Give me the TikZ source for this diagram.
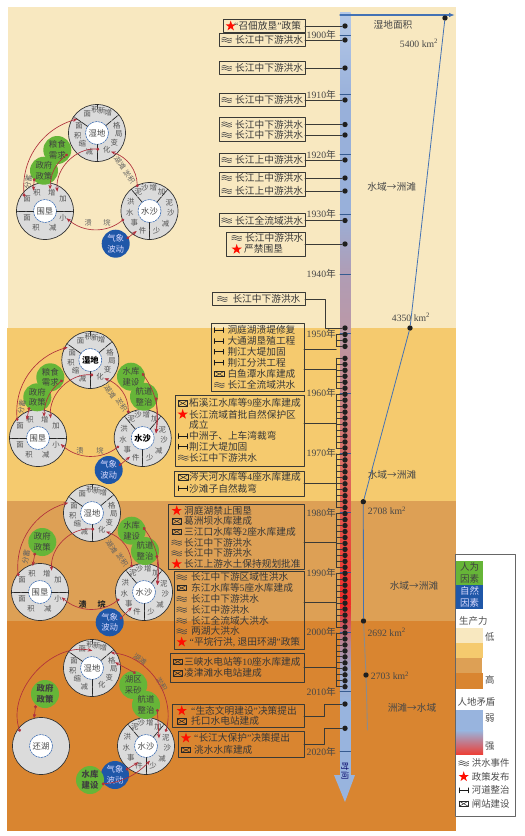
\documentclass[tikz,border=0pt]{standalone}
\usepackage{fontspec}
\setmainfont{Noto Sans CJK SC}
\newfontfamily\latinfont{Liberation Serif}
\usetikzlibrary{arrows.meta,calc}

\definecolor{bgone}{HTML}{F8E8C0}
\definecolor{bgtwo}{HTML}{F5CA6E}
\definecolor{bgthree}{HTML}{DDA055}
\definecolor{bgfour}{HTML}{D98530}
\definecolor{manbox}{HTML}{66B538}
\definecolor{natbox}{HTML}{1F57A8}
\definecolor{barblue}{HTML}{98B4DE}
\definecolor{linkred}{HTML}{B0303C}
\definecolor{inkdark}{HTML}{3A3A36}
\definecolor{arealine}{HTML}{4472B4}
\definecolor{sta}{HTML}{B4C8E8}
\definecolor{stb}{HTML}{98B0DA}
\definecolor{stc}{HTML}{B09CB4}
\definecolor{std}{HTML}{BC98A6}
\definecolor{ste}{HTML}{DC6A60}
\definecolor{stf}{HTML}{EC4038}
\definecolor{stg}{HTML}{F02A28}
\definecolor{sth}{HTML}{B88090}
\definecolor{sti}{HTML}{A0A8C8}

\begin{document}
\begin{tikzpicture}[x=1pt,y=-1pt,>=Stealth,line cap=round,line join=round]
  \tikzset{
    evbox/.style={draw=inkdark,line width=.8pt,inner sep=0pt,outer sep=0pt},
    evtext/.style={anchor=west,inner sep=0pt,text=black!78,font=\fontsize{9.7}{11}\selectfont},
    evdot/.style={circle,fill=black!88,inner sep=0pt,minimum size=5.4pt},
    lead/.style={draw=inkdark,line width=.8pt},
    yrtext/.style={anchor=east,inner sep=0pt,text=black!72,font=\fontsize{9.7}{11}\selectfont},
    areatext/.style={inner sep=0pt,text=black!72,font=\fontsize{9.7}{11}\selectfont},
    ringdisc/.style={circle,draw=black!80,fill=black!14,line width=.7pt,minimum size=57pt,inner sep=0pt,outer sep=0pt},
    ringcore/.style={circle,draw=arealine,dashed,dash pattern=on 2pt off 1pt,fill=white,line width=.6pt,minimum size=23pt,inner sep=0pt,outer sep=0pt,text=black!72,font=\fontsize{8.3}{10}\selectfont},
    ringch/.style={inner sep=0pt,text=black!68,font=\fontsize{7.4}{9}\selectfont},
    spoke/.style={draw=black!85,line width=.7pt,dash pattern=on 7pt off 1pt},
    mancirc/.style={circle,fill=manbox,minimum size=28pt,inner sep=0pt,align=center,text=black!75,font=\fontsize{8.4}{10.5}\selectfont},
    natcirc/.style={circle,fill=natbox,minimum size=28pt,inner sep=0pt,align=center,text=white!85!blue,font=\fontsize{8.4}{10.5}\selectfont},
    redlink/.style={draw=linkred,line width=.65pt,{Circle[length=3pt]}-{Stealth[length=4.5pt,width=3.5pt]}},
    flowtext/.style={inner sep=0pt,text=black!62,font=\fontsize{7.2}{9}\selectfont},
    legtext/.style={anchor=west,inner sep=0pt,text=black!70,font=\fontsize{9.4}{11}\selectfont},
    floodmark/.pic={
      \foreach \wy in {-1.8,0,1.8}
        \draw[black!72,line width=.55pt] (-5,\wy) sin (-2.5,\wy-.9) cos (0,\wy) sin (2.5,\wy+.9) cos (5,\wy);
    },
    starmark/.pic={
      \fill[red!90!orange] (-90:5.4) -- (-54:2.1) -- (-18:5.4) -- (18:2.1) -- (54:5.4) -- (90:2.1) -- (126:5.4) -- (162:2.1) -- (198:5.4) -- (234:2.1) -- cycle;
    },
    channelmark/.pic={
      \draw[black!90,line width=.7pt] (-4.5,-2.4) -- (-4.5,2.4) (-4.5,0) -- (4.5,0) (4.5,-2.4) -- (4.5,2.4);
    },
    dammark/.pic={
      \draw[black!85,line width=.7pt] (-4.6,-2.6) rectangle (4.6,2.6);
      \draw[black!85,line width=.5pt] (-4.6,-2.6) -- (0,0) -- (4.6,-2.6) (-4.6,2.6) -- (0,0) -- (4.6,2.6);
    }
  }

  \newcommand{\evframe}[5]{
    \node[evbox,minimum width={#4-#2},minimum height={#5-#3}] (#1) at ({(#2+#4)/2},{(#3+#5)/2}) {};
  }
  \newcommand{\evrow}[6]{
    \pic at (#3,#5) {#2};
    \node[evtext] (#1) at (#4,#5) {#6};
  }
  \newcommand{\evbracket}[4]{
    \draw[lead] (brk |- y#2) -- (brk |- y#3);
    \foreach \yr in {#2,...,#3}
      \draw[lead] (brk |- y\yr) -- (y\yr);
    \draw[lead] (#1.east |- 0,#4) -- (brk |- 0,#4);
  }
  \newcommand{\coredisc}[4]{
    \node[ringdisc] (#1) at (#2,#3) {};
    \node[ringcore] (#1c) at (#2,#3) {#4};
  }
  \newcommand{\ringtext}[2]{
    \foreach \cx/\cy/\cz [count=\ci] in #2
      \node[ringch] (#1t\ci) at ([shift={(\cx,\cy)}]#1.center) {\cz};
  }
  \newcommand{\wetdisc}[4]{
    \coredisc{#1}{#2}{#3}{#4}
    \foreach \sa in {145,40,270} \draw[spoke] (#1c.\sa) -- (#1.\sa);
    \draw[spoke] (#1.90) -- ++(0,4);
    \ringtext{#1}{\wetchars}
  }
  \newcommand{\polderdisc}[4]{
    \coredisc{#1}{#2}{#3}{#4}
    \foreach \sa in {0,180} \draw[spoke] (#1c.\sa) -- (#1.\sa);
    \ringtext{#1}{\polderchars}
  }
  \newcommand{\sanddisc}[4]{
    \coredisc{#1}{#2}{#3}{#4}
    \foreach \sa in {130,50,270} \draw[spoke] (#1c.\sa) -- (#1.\sa);
    \ringtext{#1}{\sandchars}
  }
  \newcommand{\linkpath}[7]{
    \draw[redlink] ([shift={(#2,#3)}]#1.center) to[#7] ([shift={(#5,#6)}]#4.center);
  }
  \newcommand{\wetchars}{-9.7/-18.7/面,-2/-23/积,4.7/-22.3/新,11.3/-20/增,19.7/-7.7/格,21.7/1/局,17.3/10/变,9.7/16.7/化,-7.7/18.3/减,-14.7/11/缩,-19.3/2.7/积,-18/-6.7/面}
  \newcommand{\polderchars}{-18/-12/面,-8/-18/积,6.7/-18/增,18/-12/加,18/7/小,7.7/17/减,-9/17/积,-18/7/面}
  \newcommand{\sandchars}{-11.3/-19/泥,-4.7/-23.3/沙,3.7/-23/增,12/-19.3/加,19.7/-8.3/泥,21.3/1.7/沙,16/12.3/减,7/20/少,-7/20/件,-15.3/11.7/事,-19.7/1.7/水,-18.7/-9/洪}

  \useasboundingbox (0,0) rectangle (525,836);

  % production belts
  \fill[bgone] (8,7) rectangle (456,328);
  \fill[bgtwo] (7,328) rectangle (456,501);
  \fill[bgthree] (7,501) rectangle (456,621);
  \fill[bgfour] (7,621) rectangle (456,831);

  % time bar
  \foreach \ya/\yb/\ca/\cb in {12/100/sta/stb,100/210/stb/stb,210/275/stb/stc,275/335/stc/std,335/470/std/ste,470/560/ste/stf,560/605/stf/stg,605/640/stg/sth,640/670/sth/sti,670/700/sti/barblue,700/776/barblue/barblue}
    \shade[top color=\ca,bottom color=\cb] (340,\ya) rectangle (350.6,\yb+.4);
  \fill[barblue] (334,775) -- (355,775) -- (345,802) -- cycle;
  \node[inner sep=0pt,rotate=-90,text=black!60!blue,font=\fontsize{8.3}{10}\selectfont] (timetag) at (345,771) {时间};
  \foreach \yr in {1900,1910,...,2020}{
    \draw[arealine!80!black,line width=.6pt] (340,{35+5.97*(\yr-1900)}) -- (350.6,{35+5.97*(\yr-1900)});
    \node[yrtext] (t\yr) at (336,{35+5.97*(\yr-1900)}) {{\latinfont\yr}年};
  }

  % one dot per year after 1950
  \coordinate (brk) at (336.3,0);
  \foreach \yr in {1950,1951,1952,1954,1955,...,2009}
    \node[evdot] (y\yr) at (345,{36+5.97*(\yr-1900)}) {};

  % 1900-1945: single events
  \foreach \dn/\dy in {a/26,b/40,c/68,d/100,e/124.5,f/135,g/160,h/178,i/191,j/220.5,k/244,l/328,q/704,r/728.3}
    \node[evdot] (d\dn) at (345,\dy) {};
  \evframe{boxA}{223}{19.3}{305}{32.7}
  \evrow{rowa}{starmark}{230.7}{234}{26}{{\latinfont“}召佃放垦{\latinfont”}政策}
  \evframe{boxB}{219.3}{33.3}{305}{46.7}
  \evrow{rowb}{floodmark}{226.7}{235}{40}{长江中下游洪水}
  \evframe{boxC}{219.3}{61.3}{305}{74.7}
  \evrow{rowc}{floodmark}{226.7}{235}{68}{长江中下游洪水}
  \evframe{boxD}{219.3}{93.3}{305}{106.7}
  \evrow{rowd}{floodmark}{226.7}{235}{100}{长江中下游洪水}
  \evframe{boxE}{219.3}{117.3}{305}{141.7}
  \evrow{rowe}{floodmark}{226.7}{235}{124.5}{长江中下游洪水}
  \evrow{rowf}{floodmark}{226.7}{235}{135}{长江中下游洪水}
  \evframe{boxF}{219.3}{153.3}{305}{166.7}
  \evrow{rowg}{floodmark}{226.7}{235}{160}{长江上中游洪水}
  \evframe{boxG}{219.3}{172}{305}{196.7}
  \evrow{rowh}{floodmark}{226.7}{235}{178}{长江上中游洪水}
  \evrow{rowi}{floodmark}{226.7}{235}{191}{长江上中游洪水}
  \evframe{boxH}{219.3}{213.3}{305}{226.7}
  \evrow{rowj}{floodmark}{226.7}{235}{220.5}{长江全流域洪水}
  \evframe{boxI}{226.7}{232.7}{305}{256}
  \evrow{rowk}{floodmark}{236.7}{245}{238}{长江中游洪水}
  \evrow{rowl}{starmark}{236.7}{244}{249.3}{严禁围垦}
  \draw[lead] (da) -- (da -| boxA.east);
  \draw[lead] (db) -- (db -| boxB.east);
  \draw[lead] (dc) -- (dc -| boxC.east);
  \draw[lead] (dd) -- (dd -| boxD.east);
  \draw[lead] (de) -- (de -| boxE.east);
  \draw[lead] (df) -- (df -| boxE.east);
  \draw[lead] (dg) -- (dg -| boxF.east);
  \draw[lead] (dh) -- (dh -| boxG.east);
  \draw[lead] (di) -- (di -| boxG.east);
  \draw[lead] (dj) -- (dj -| boxH.east);
  \draw[lead] (dk) -- (dk -| boxI.east);

  \evframe{boxJ}{212.7}{292.7}{305}{305.7}
  \evrow{rowj2}{floodmark}{222.3}{232.3}{299}{长江中下游洪水}
  \draw[lead] (boxJ.east) -- ++(20,0) |- (dl);

  % 1950s
  \evframe{boxK}{211}{323.3}{304}{391.7}
  \evrow{rowk1}{channelmark}{219.3}{227.3}{330}{洞庭湖溃堤修复}
  \evrow{rowk2}{channelmark}{219.3}{227.3}{341}{大通湖垦殖工程}
  \evrow{rowk3}{channelmark}{219.3}{227.3}{351.7}{荆江大堤加固}
  \evrow{rowk4}{channelmark}{219.3}{227.3}{362.7}{荆江分洪工程}
  \evrow{rowk5}{dammark}{219.3}{227.3}{374}{白鱼潭水库建成}
  \evrow{rowk6}{floodmark}{219.3}{227.3}{385}{长江全流域洪水}
  \evbracket{boxK}{1950}{1952}{349}
  \evbracket{boxK}{1954}{1959}{369}

  % 1960s and 1970s
  \evframe{boxL}{175.7}{395.3}{304}{466}
  \evrow{rowl1}{dammark}{182.7}{189}{403.3}{柘溪江水库等{\latinfont 9}座水库建成}
  \evrow{rowl2}{starmark}{182.7}{189}{414.3}{长江流域首批自然保护区}
  \node[evtext] (rowl3) at (189,425.3) {成立};
  \evrow{rowl4}{channelmark}{183.3}{189}{436}{中洲子、上车湾裁弯}
  \evrow{rowl5}{channelmark}{183.3}{189}{446.7}{荆江大堤加固}
  \evrow{rowl6}{floodmark}{183.3}{189}{457.7}{长江中下游洪水}
  \evbracket{boxL}{1960}{1969}{423}
  \evframe{boxM}{174.7}{471.3}{304}{496.7}
  \evrow{rowm1}{dammark}{183.3}{189}{477.3}{涔天河水库等{\latinfont 4}座水库建成}
  \evrow{rowm2}{channelmark}{183.3}{189}{488.3}{沙滩子自然裁弯}
  \evbracket{boxM}{1970}{1979}{483}

  % 1980s and 1990s
  \evframe{boxN}{168.3}{504.3}{304}{569}
  \evrow{rown1}{starmark}{176.7}{184}{510.7}{洞庭湖禁止围垦}
  \evrow{rown2}{dammark}{176.7}{184}{521.3}{葛洲坝水库建成}
  \evrow{rown3}{dammark}{176.7}{184}{531.7}{三江口水库等{\latinfont 2}座水库建成}
  \evrow{rown4}{floodmark}{176.7}{184}{542.7}{长江中下游洪水}
  \evrow{rown5}{floodmark}{176.7}{184}{553.3}{长江中下游洪水}
  \evrow{rown6}{starmark}{176.7}{184}{564}{长江上游水土保持规划批准}
  \evbracket{boxN}{1980}{1989}{542.7}
  \evframe{boxO}{174}{571}{304}{649}
  \evrow{rowo1}{floodmark}{181.7}{191}{577.3}{长江中下游区域性洪水}
  \evrow{rowo2}{dammark}{181.7}{191}{588}{东江水库等{\latinfont 5}座水库建成}
  \evrow{rowo3}{floodmark}{181.7}{191}{599}{长江中下游洪水}
  \evrow{rowo4}{floodmark}{181.7}{191}{609.7}{长江中游洪水}
  \evrow{rowo5}{floodmark}{181.7}{191}{620.7}{长江全流域大洪水}
  \evrow{rowo6}{floodmark}{181.7}{191}{631.3}{两湖大洪水}
  \evrow{rowo7}{starmark}{181.7}{189.5}{642}{{\latinfont“}平垸行洪{\latinfont, }退田环湖{\latinfont”}政策}
  \evbracket{boxO}{1990}{1999}{602.7}

  % after 2000
  \evframe{boxP}{170.7}{653.3}{304}{682.3}
  \evrow{rowp1}{dammark}{177.7}{184}{661.7}{三峡水电站等{\latinfont 10}座水库建成}
  \evrow{rowp2}{dammark}{177.7}{184}{673.3}{凌津滩水电站建成}
  \evbracket{boxP}{2000}{2009}{667.3}
  \evframe{boxQ}{172.3}{704.3}{304}{727.3}
  \evrow{rowq1}{starmark}{181.7}{191}{710.7}{{\latinfont“}生态文明建设{\latinfont”}决策提出}
  \evrow{rowq2}{dammark}{181.7}{191}{721.3}{托口水电站建成}
  \draw[lead] (boxQ.east |- 0,716) -- (324,716) |- (dq);
  \evframe{boxR}{178.3}{731.7}{304}{757.3}
  \evrow{rowr1}{starmark}{186}{194}{738}{{\latinfont“}长江大保护{\latinfont”}决策提出}
  \evrow{rowr2}{dammark}{186}{194}{750}{洮水水库建成}
  \draw[lead] (boxR.east |- 0,744) -- (324,744) |- (dr);

  % wetland area curve
  \coordinate (axisa) at (340,15);
  \coordinate (axisb) at (455,15);
  \draw[-{Latex[length=6pt]},arealine,line width=1.3pt] (axisa) -- (axisb);
  \node[evdot] (a5400) at (445,18) {};
  \node[evdot] (a4350) at (410,328) {};
  \node[evdot] (a2708) at (363.3,501.7) {};
  \node[evdot] (a2692) at (363.5,621) {};
  \node[evdot] (a2703) at (366,675) {};
  \coordinate (aend) at (367.5,730);
  \draw[arealine,line width=.8pt] (a5400) -- (a4350) -- (a2708) -- (a2692);
  \draw[black!45,line width=.9pt] (a2692) -- (a2703) -- (aend);
  \node[areatext] (areaname) at (393,25) {湿地面积};
  \node[areatext] (la5400) at (419,43) {{\latinfont 5400 km\textsuperscript{2}}};
  \node[areatext] (la4350) at (411,317) {{\latinfont 4350 km\textsuperscript{2}}};
  \node[areatext] (la2708) at (387,510.7) {{\latinfont 2708 km\textsuperscript{2}}};
  \node[areatext] (la2692) at (386.7,632) {{\latinfont 2692 km\textsuperscript{2}}};
  \node[areatext] (la2703) at (390,675.7) {{\latinfont 2703 km\textsuperscript{2}}};
  \node[areatext] (stagea) at (391.7,186.7) {水域→洲滩};
  \node[areatext] (stageb) at (392,475) {水域→洲滩};
  \node[areatext] (stagec) at (414,585.7) {水域→洲滩};
  \node[areatext] (staged) at (412,707.7) {洲滩→水域};

  % before 1949
  \wetdisc{weta}{97}{133}{湿地}
  \polderdisc{pola}{45}{211}{围垦}
  \sanddisc{sanda}{149.5}{211}{水沙}
  \node[mancirc] (grainA) at (57.3,150) {粮食\\需求};
  \node[mancirc] (policyA) at (44,170.7) {政府\\政策};
  \node[natcirc] (climA) at (115.7,243.7) {气象\\波动};
  \node[flowtext] (breachA) at (88.3,222.7) {溃};
  \node[flowtext] (breachB) at (107,222.7) {垸};
  \node[flowtext,rotate=-55] (flatA) at (120,163.3) {湖滩};
  \node[flowtext,rotate=-55] (siltA) at (129.3,176.7) {淤积};
  \node[flowtext,rotate=80] (divA) at (28.3,181.7) {分蓄};
  \linkpath{pola}{-20.7}{-14.3}{weta}{-19.7}{-14}{bend left=40}
  \linkpath{weta}{2.3}{16.3}{pola}{12.3}{-19.3}{bend right=50}
  \linkpath{grainA}{10.4}{4}{pola}{5}{-21.7}{bend right=25}
  \linkpath{policyA}{-9.7}{7.6}{pola}{-11.7}{-20.3}{bend left=0}
  \linkpath{sanda}{-12.2}{-23.7}{weta}{14}{18.7}{bend right=35}
  \linkpath{sanda}{-25.5}{8}{pola}{21.7}{7.3}{bend left=40}
  \linkpath{climA}{11}{-5}{sanda}{-12.8}{20}{bend left=0}

  % 1949-1980
  \wetdisc{wetb}{90.3}{360}{\bfseries\color{black}湿地}
  \polderdisc{polb}{38}{438}{围垦}
  \sanddisc{sandb}{142.7}{438}{\bfseries\color{black}水沙}
  \node[mancirc] (grainB) at (50.3,377.3) {粮食\\需求};
  \node[mancirc] (policyB) at (37.3,397.3) {政府\\政策};
  \node[mancirc] (damB) at (131,376.7) {水库\\建设};
  \node[mancirc] (dredgeB) at (144,396.7) {航道\\整治};
  \node[natcirc] (climB) at (108.7,470) {气象\\波动};
  \node[flowtext] (breachC) at (80,450.7) {溃};
  \node[flowtext] (breachD) at (100,450.7) {垸};
  \node[flowtext,rotate=-55] (flatB) at (110,391.7) {湖滩};
  \node[flowtext,rotate=-55] (siltB) at (121.7,405) {淤积};
  \node[flowtext,rotate=80] (divB) at (21.7,407) {分蓄};
  \linkpath{polb}{-20.7}{-17.3}{wetb}{-22.6}{-12.7}{bend left=40}
  \linkpath{wetb}{3}{15}{polb}{12.7}{-19.7}{bend right=50}
  \linkpath{grainB}{12.4}{2.7}{polb}{6}{-21.3}{bend right=25}
  \linkpath{policyB}{-8}{9.9}{polb}{-11.3}{-18}{bend left=0}
  \linkpath{sandb}{-14.4}{-24.7}{wetb}{14}{18.3}{bend right=35}
  \linkpath{sandb}{-23.7}{8}{polb}{22.7}{6}{bend left=40}
  \linkpath{damB}{11.3}{-3.4}{sandb}{13.3}{-4.7}{bend left=22}
  \linkpath{dredgeB}{12}{.6}{sandb}{13.3}{-4.7}{bend left=5}
  \linkpath{climB}{10.3}{-4.3}{sandb}{-12.7}{18.7}{bend left=0}

  % 1980-2000
  \wetdisc{wetc}{92}{513}{湿地}
  \polderdisc{polc}{40}{592}{围垦}
  \sanddisc{sandc}{144}{592}{水沙}
  \node[mancirc] (policyC) at (42.3,542) {政府\\政策};
  \node[mancirc] (damC) at (131.7,530.7) {水库\\建设};
  \node[mancirc] (dredgeC) at (145,551) {航道\\整治};
  \node[natcirc] (climC) at (109.7,622.3) {气象\\波动};
  \node[flowtext,text=black!85,font=\fontsize{8}{10}\selectfont\bfseries] (breachE) at (82.7,604) {溃};
  \node[flowtext,text=black!85,font=\fontsize{8}{10}\selectfont\bfseries] (breachF) at (101.7,604) {垸};
  \node[flowtext,rotate=-55] (flatC) at (111.7,546.7) {湖滩};
  \node[flowtext,rotate=-55] (siltC) at (122.3,560) {淤积};
  \node[flowtext,rotate=80] (divC) at (26,557.3) {分蓄};
  \linkpath{polc}{-21.7}{-16}{wetc}{-23.7}{-10.3}{bend left=40}
  \linkpath{wetc}{2.3}{16.3}{polc}{11.7}{-21.3}{bend right=50}
  \linkpath{policyC}{-7.3}{10.7}{polc}{-7.3}{-26}{bend left=0}
  \linkpath{sandc}{-12.3}{-24.7}{wetc}{14}{18.7}{bend right=35}
  \linkpath{sandc}{-24.7}{7}{polc}{21.7}{5.3}{bend left=40}
  \linkpath{damC}{11.6}{-3.4}{sandc}{13.3}{-7}{bend left=22}
  \linkpath{dredgeC}{11.7}{4}{sandc}{13.3}{-7}{bend left=5}
  \linkpath{climC}{10.3}{-3.3}{sandc}{-12.3}{15.3}{bend left=0}

  % after 2000
  \wetdisc{wetd}{92}{668}{湿地}
  \coredisc{pold}{41}{746}{还湖}
  \sanddisc{sandd}{146}{746}{水沙}
  \node[mancirc] (policyD) at (45,694) {\bfseries 政府\\\bfseries 政策};
  \node[mancirc] (sandpit) at (133.3,685) {湖区\\采砂};
  \node[mancirc] (dredgeD) at (146,705) {航道\\整治};
  \node[natcirc] (climD) at (115,775) {气象\\波动};
  \node[mancirc] (damD) at (90,780) {\bfseries 水库\\\bfseries 建设};
  \node[flowtext,rotate=-35] (flatD) at (140,659.3) {湖滩};
  \node[flowtext,rotate=-60] (siltD) at (161.7,684) {淤积};
  \linkpath{pold}{-21}{-14.3}{wetd}{.3}{-17.3}{bend left=60}
  \linkpath{sandd}{19.7}{-14.3}{wetd}{18.7}{-15.3}{bend right=50}
  \linkpath{sandpit}{2.4}{-11.7}{wetd}{23}{-5.7}{bend left=0}
  \linkpath{dredgeD}{11.3}{4}{sandd}{13}{-7.7}{bend left=0}
  \linkpath{policyD}{-9.3}{11.3}{pold}{-7}{-27.7}{bend left=0}
  \linkpath{climD}{10.7}{-5}{sandd}{-7.7}{16.3}{bend left=0}
  \linkpath{damD}{11.7}{4}{sandd}{4}{14.7}{bend right=20}

  % legend
  \fill[white] (455.3,554.7) rectangle (515.7,816.7);
  \draw[black!60,line width=.8pt] (455.3,554.7) -- (515.7,554.7) -- (515.7,816.7) -- (455.3,816.7) -- cycle;
  \node[fill=manbox,minimum width=27pt,minimum height=24pt,inner sep=0pt,align=center,text=black!75,font=\fontsize{9.5}{12}\selectfont] (legman) at (469.5,573) {人为\\因素};
  \node[fill=natbox,minimum width=27pt,minimum height=24pt,inner sep=0pt,align=center,text=white!85!blue,font=\fontsize{9.5}{12}\selectfont] (legnat) at (469.5,597) {自然\\因素};
  \node[legtext] (legprod) at (459,620.7) {生产力};
  \fill[bgone] (456,628.3) rectangle (483,643);
  \fill[bgtwo] (456,643) rectangle (483,658);
  \fill[bgthree] (456,658) rectangle (482,673);
  \fill[bgfour] (456,673) rectangle (483,689);
  \node[legtext] (leglow) at (485,637) {低};
  \node[legtext] (leghigh) at (485,680) {高};
  \node[legtext] (legconf) at (457.5,701.7) {人地矛盾};
  \fill[barblue] (456,710) rectangle (483,731);
  \shade[top color=barblue,bottom color=stf] (456,730.5) rectangle (483,754);
  \node[legtext] (legweak) at (485,717.7) {弱};
  \node[legtext] (legstrong) at (485,746.7) {强};
  \pic at (463.7,763.3) {floodmark};
  \pic at (463.7,776.7) {starmark};
  \pic at (463.7,790.3) {channelmark};
  \pic at (463.7,803.7) {dammark};
  \node[legtext] (legflood) at (471.7,763.3) {洪水事件};
  \node[legtext] (legstar) at (471.7,776.7) {政策发布};
  \node[legtext] (legchan) at (471.7,790.3) {河道整治};
  \node[legtext] (legdam) at (471.7,803.7) {闸站建设};
\end{tikzpicture}
\end{document}
